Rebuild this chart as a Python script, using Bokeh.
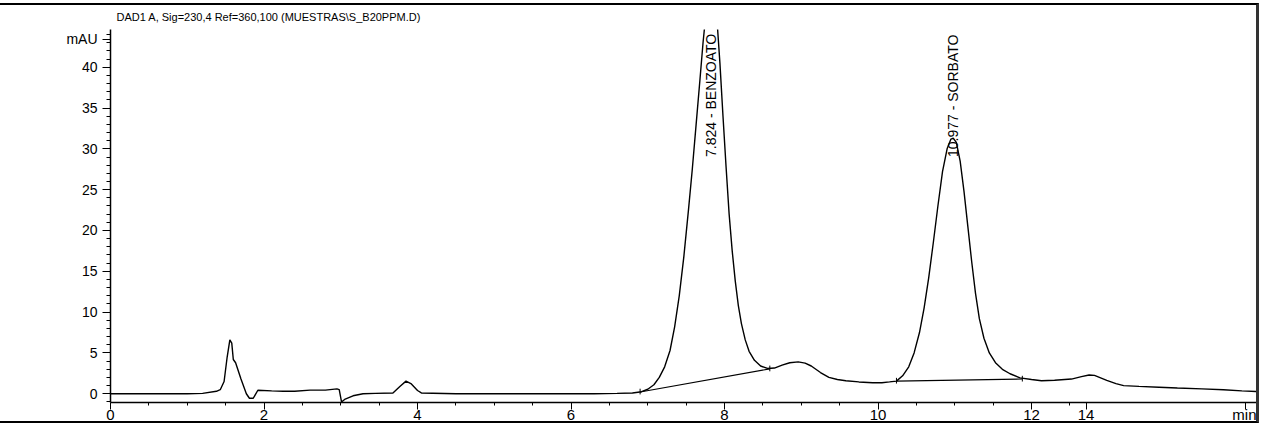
from bokeh.plotting import figure
from bokeh.models import Range1d, FixedTicker
from bokeh.core.properties import value
from bokeh.embed import file_html
from bokeh.resources import INLINE
import math

# ---------------- data ----------------
title_text = "DAD1 A, Sig=230,4 Ref=360,100 (MUESTRAS\\S_B20PPM.D)"

time_min = [0.00, 0.60, 1.00, 1.20, 1.38, 1.43, 1.48, 1.52, 1.555, 1.58, 1.60, 1.63, 1.70, 1.77,
            1.81, 1.86, 1.92, 2.10, 2.25, 2.40, 2.60, 2.80, 2.95, 2.98, 3.01, 3.05, 3.16,
            3.29, 3.45, 3.68, 3.77, 3.85, 3.92, 4.00, 4.05, 4.50, 5.00, 5.50, 6.00, 6.30,
            6.60, 6.80, 6.92, 7.00, 7.08, 7.15, 7.22, 7.29, 7.35, 7.41, 7.47, 7.53, 7.58,
            7.63, 7.68, 7.72, 7.76, 7.80, 7.83, 7.86, 7.90, 7.94, 7.98, 8.02, 8.06, 8.10,
            8.14, 8.18, 8.22, 8.27, 8.32, 8.39, 8.47, 8.56, 8.65, 8.75, 8.85, 8.96, 9.05,
            9.13, 9.25, 9.36, 9.47, 9.58, 9.75, 9.93, 10.05, 10.15, 10.24, 10.32, 10.40,
            10.47, 10.54, 10.60, 10.66, 10.72, 10.78, 10.84, 10.90, 10.95, 10.98, 11.02,
            11.07, 11.12, 11.17, 11.22, 11.27, 11.32, 11.38, 11.45, 11.53, 11.62, 11.72,
            11.85, 12.00, 12.13, 12.30, 12.52, 12.65, 12.75, 12.82, 12.90, 12.98, 13.10,
            13.20, 13.40, 13.66, 13.90, 14.22, 14.50, 14.74, 14.97]
signal_mau = [0.00, 0.00, 0.00, 0.05, 0.30, 0.50, 1.50, 4.50, 6.60, 6.20, 4.20, 3.80, 1.80, 0.00,
              -0.55, -0.55, 0.43, 0.35, 0.30, 0.30, 0.45, 0.45, 0.60, 0.50, -1.00, -0.70, -0.25,
              0.00, 0.05, 0.10, 0.90, 1.55, 1.20, 0.40, 0.10, 0.00, 0.00, 0.00, 0.00, 0.00,
              0.05, 0.10, 0.25, 0.55, 1.10, 2.00, 3.30, 5.30, 8.20, 12.00, 16.80, 22.50, 27.50,
              33.00, 38.50, 43.00, 46.80, 49.20, 50.00, 49.30, 46.00, 40.50, 34.00, 27.80, 22.00, 17.50,
              13.80, 10.80, 8.60, 6.60, 5.20, 4.10, 3.40, 3.10, 3.15, 3.50, 3.80, 3.90, 3.75,
              3.40, 2.60, 2.00, 1.75, 1.60, 1.45, 1.35, 1.35, 1.45, 1.55, 2.20, 3.30,
              5.00, 7.50, 10.50, 14.20, 18.50, 23.00, 27.20, 30.00, 31.20, 31.30, 30.80,
              28.50, 24.80, 20.50, 16.20, 12.30, 9.20, 6.80, 5.00, 3.80, 3.00, 2.45,
              1.95, 1.75, 1.60, 1.65, 1.80, 2.10, 2.30, 2.25, 1.95, 1.65, 1.25,
              1.00, 0.90, 0.80, 0.70, 0.60, 0.50, 0.35, 0.25]

# integration baselines (start/end time, start/end level)
base_t0 = [6.90, 10.24]
base_t1 = [8.59, 11.88]
base_y0 = [0.22, 1.55]
base_y1 = [3.05, 1.80]

# peak annotations
peak_rt = [7.824, 10.977]
peak_name = ["BENZOATO", "SORBATO"]
peak_label_level = [29.0, 29.0]

x_major_ticks = [0, 2, 4, 6, 8, 10, 12, 12.71, 14.79]
x_tick_labels = {12.71: "14", 14.79: "min"}
x_minor_ticks = [0.5, 1, 1.5, 2.5, 3, 3.5, 4.5, 5, 5.5, 6.5, 7, 7.5, 8.5, 9, 9.5,
                 10.5, 11, 11.5, 12.5]
y_major_ticks = [0, 5, 10, 15, 20, 25, 30, 35, 40, 43.4]
y_tick_labels = {43.4: "mAU"}
y_minor_ticks = list(range(-1, 45))

# ---------------- figure ----------------
FONT = "Liberation Sans"
p = figure(width=1256, height=416,
           x_range=Range1d(0, 14.97), y_range=Range1d(-1.07, 44.62),
           output_backend="svg", toolbar_location=None,
           min_border_left=110, min_border_right=0, min_border_top=24, min_border_bottom=20,
           styles={"box-sizing": "content-box", "margin-top": "3px",
                   "border-top": "2px solid #000", "border-bottom": "2px solid #000",
                   "border-right": "3px solid #333"})
p.title.text = title_text
p.title.align = "left"
p.title.vertical_align = "top"
p.title.offset = 6
p.title.text_font = FONT
p.title.text_font_size = "11px"
p.title.text_font_style = "normal"
p.title.text_color = "#000"

p.grid.visible = False
p.outline_line_color = None
p.background_fill_color = "white"
p.border_fill_color = "white"

for ax in (p.xaxis[0], p.yaxis[0]):
    ax.axis_line_color = "#000"
    ax.axis_line_width = 1.5
    ax.major_tick_line_color = "#000"
    ax.minor_tick_line_color = "#000"
    ax.major_tick_in = 0
    ax.minor_tick_in = 0
    ax.major_label_text_font = FONT
    ax.major_label_text_font_size = "14px"
    ax.major_label_text_color = "#000"

p.xaxis.ticker = FixedTicker(ticks=x_major_ticks, minor_ticks=x_minor_ticks)
p.xaxis.major_label_overrides = x_tick_labels
p.xaxis.major_tick_out = 7
p.xaxis.minor_tick_out = 3
p.xaxis.major_label_standoff = -4
p.xaxis.major_label_text_font_size = "15px"

p.yaxis.ticker = FixedTicker(ticks=y_major_ticks, minor_ticks=y_minor_ticks)
p.yaxis.major_label_overrides = y_tick_labels
p.yaxis.major_tick_out = 8
p.yaxis.minor_tick_out = 4
p.yaxis.major_label_standoff = 5

# chromatogram trace
p.line(time_min, signal_mau, line_color="#000", line_width=1.4)

# integration baselines and event marks
p.segment(x0=base_t0, y0=base_y0, x1=base_t1, y1=base_y1, line_color="#000", line_width=1.1)
ev_t = base_t0 + base_t1
ev_y = base_y0 + base_y1
p.segment(x0=ev_t, y0=[v - 0.3 for v in ev_y], x1=ev_t, y1=[v + 0.4 for v in ev_y],
          line_color="#000", line_width=1)

# peak labels (rotated)
labels = [f"{rt:.3f} - {nm}" for rt, nm in zip(peak_rt, peak_name)]
p.text(x=peak_rt, y=peak_label_level, text=labels, angle=math.pi / 2,
       text_align="left", text_baseline="middle", text_font=value(FONT),
       text_font_size="14px", text_color="#000")

open("out.html", "w").write(file_html(p, INLINE))
